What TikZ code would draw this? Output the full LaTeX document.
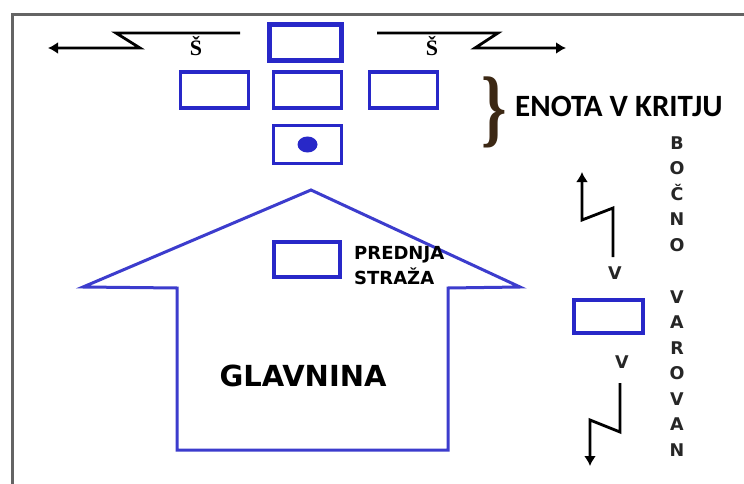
\documentclass[tikz,border=0pt]{standalone}
\usepackage{fontspec}
\usepackage{graphicx}
\setmainfont{Carlito}
\newfontfamily\serifb{Liberation Serif}
\newfontfamily\wides{DejaVu Sans}
\usetikzlibrary{arrows.meta}
\definecolor{boxblue}{RGB}{40,40,200}
\definecolor{houseblue}{RGB}{60,60,205}
\definecolor{framegray}{RGB}{100,100,100}
\definecolor{bracecol}{RGB}{60,40,20}
\begin{document}
\begin{tikzpicture}[x=1pt,y=-1pt,
  unit/.style={draw=boxblue, line width=3.5pt, minimum width=68pt, minimum height=36pt, inner sep=0pt},
  zarrow/.style={draw=black, line width=2.8pt, -{Latex[length=10pt,width=12pt]}, line join=miter},
  lbl/.style={font=\wides\bfseries\fontsize{17.5}{20}\selectfont, inner sep=0pt, text=black!85},
  sl/.style={font=\serifb\bfseries\fontsize{22}{24}\selectfont, inner sep=0pt},
]
\useasboundingbox (0,0) rectangle (744,484);
\fill[white] (0,0) rectangle (744,484);
\draw[framegray, line width=3pt] (12,484) -- (12,15) -- (744,15);

% unit in column
\node[unit, line width=5pt, minimum width=72pt] (top) at (305.5,42.5) {};
\node[unit] (ml) at (214.5,90) {};
\node[unit] (mc) at (307.5,90) {};
\node[unit] (mr) at (403.5,90) {};
\node[unit, minimum height=38pt] (cmd) at (307.5,144.5) {};
\fill[boxblue] (cmd.center) ellipse [x radius=10pt, y radius=8pt];

% side security arrows
\coordinate (la1) at (240,33); \coordinate (la2) at (116,33); \coordinate (la3) at (140,48); \coordinate (la4) at (48,48);
\draw[zarrow] (la1) -- (la2) -- (la3) -- (la4);
\coordinate (ra1) at (377,33); \coordinate (ra2) at (498,33); \coordinate (ra3) at (475,48); \coordinate (ra4) at (566,48);
\draw[zarrow] (ra1) -- (ra2) -- (ra3) -- (ra4);
\node[sl] (s1) at (196,46) {Š};
\node[sl] (s2) at (432,46) {Š};

% brace and label
\node[inner sep=0pt, text=bracecol] (brace) at (494,112) {\scalebox{0.75}[1]{\serifb\bfseries\fontsize{86}{86}\selectfont\}}};
\node[anchor=west, font=\bfseries\fontsize{31}{32}\selectfont, inner sep=0pt] (enota) at (515,106) {ENOTA V KRITJU};

% house (main body)
\draw[houseblue, line width=3pt, line join=miter] (311,190) -- (83,287) -- (177,288) -- (177,450) -- (448,450) -- (448,288) -- (520,287) -- cycle;
\node[unit, minimum width=66pt, minimum height=35pt] (pred) at (307,259.5) {};
\node[anchor=west, align=left, font=\wides\bfseries\fontsize{18}{25}\selectfont, inner sep=0pt] (predt) at (354,266) {PREDNJA\\STRAŽA};
\node[font=\wides\bfseries\fontsize{29}{30}\selectfont, inner sep=0pt] (glav) at (303,376) {GLAVNINA};

% flank security
\node[unit, minimum width=69pt, minimum height=33pt] (flank) at (608.5,316.5) {};
\coordinate (ua1) at (613,257); \coordinate (ua2) at (613,208); \coordinate (ua3) at (582,220); \coordinate (ua4) at (582,172);
\draw[zarrow] (ua1) -- (ua2) -- (ua3) -- (ua4);
\coordinate (da1) at (620,383); \coordinate (da2) at (620,432); \coordinate (da3) at (590,420); \coordinate (da4) at (590,466);
\draw[zarrow] (da1) -- (da2) -- (da3) -- (da4);
\node[lbl] (v1) at (615,273) {V};
\node[lbl] (v2) at (622,362) {V};

\foreach \ch/\yy [count=\i] in {B/143,O/168,Č/193,N/219,O/245,V/297,A/322,R/348,O/373,V/399,A/424,N/450}
  \node[lbl] (side\i) at (677,\yy) {\ch};
\end{tikzpicture}
\end{document}
